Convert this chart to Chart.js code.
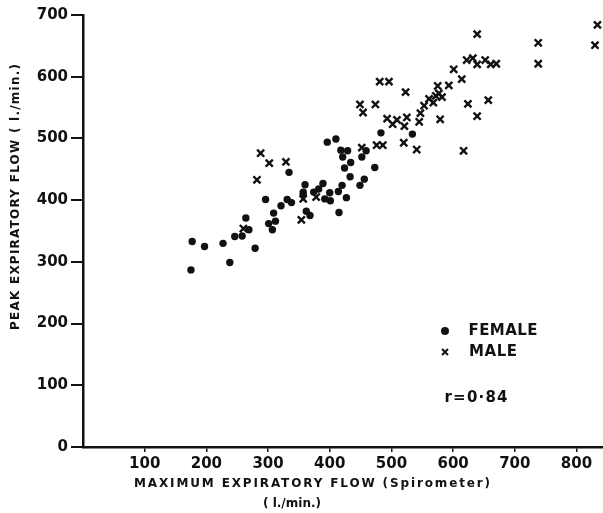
<!DOCTYPE html>
<html>
<head>
<meta charset="utf-8">
<script src="https://cdn.jsdelivr.net/npm/chart.js@4"></script>
<style>
  body { margin: 0; background: #fff; }
  .wrap { width: 603px; height: 513px; position: relative; }
</style>
</head>
<body>
<div class="wrap"><canvas id="flow"></canvas></div>
<script>
// values (l./min.)
var femaleMEF = [175,177,197,227,238,246,258,264,269,279,296,301,307,309,312,321,331,334,338,357,357,360,362,368,374,382,389,392,396,400,401,410,414,415,418,420,421,424,427,429,433,434,449,452,456,459,473,483,534];
var femalePEF = [287,333,325,330,299,341,342,371,352,322,401,362,352,379,366,391,401,445,396,413,409,425,382,375,413,418,427,402,494,412,399,499,414,380,481,424,470,452,404,480,438,461,424,470,434,480,453,509,507];
var maleMEF = [260,282,288,302,329,354,357,378,449,452,454,474,476,481,486,493,496,502,509,520,521,523,525,541,545,547,553,561,568,572,575,577,579,582,593,601,614,617,622,624,632,639,639,639,652,657,661,670,738,738,830,834];
var malePEF = [354,433,476,460,462,368,402,405,555,485,542,555,489,592,489,532,592,523,530,493,520,575,534,482,527,541,553,564,558,569,585,573,531,567,586,612,596,480,627,556,630,669,620,536,627,562,620,621,655,621,651,684];

var xTicks = [100,200,300,400,500,600,700,800];
var yTicks = [0,100,200,300,400,500,600,700];

var ink = '#111';
var fontName = '"DejaVu Sans", sans-serif';

function pairs(xs, ys){
    return xs.map(function(v, i){ return {x: v, y: ys[i]}; });
}

// draw text stretched to a given width with letter spacing
function spaced(ctx, text, cx, cy, width, font){
    ctx.font = font;
    ctx.letterSpacing = '0px';
    var w = ctx.measureText(text).width;
    var gap = (width - w) / (text.length - 1);
    ctx.letterSpacing = gap + 'px';
    ctx.textAlign = 'left';
    ctx.textBaseline = 'middle';
    ctx.fillText(text, cx - width / 2, cy);
    ctx.letterSpacing = '0px';
}

var labels = {
    id: 'labels',
    afterDraw: function(chart){
        var ctx = chart.ctx;
        ctx.save();
        ctx.fillStyle = ink;
        ctx.strokeStyle = ink;

        // axis titles
        spaced(ctx, 'MAXIMUM EXPIRATORY FLOW (Spirometer)', 312, 484, 356, 'bold 12px ' + fontName);
        spaced(ctx, '( l./min.)', 292, 504, 58, 'bold 12px ' + fontName);

        ctx.save();
        ctx.translate(16, 197);
        ctx.rotate(-Math.PI / 2);
        spaced(ctx, 'PEAK EXPIRATORY FLOW ( l./min.)', 0, 0, 266, 'bold 12px ' + fontName);
        ctx.restore();

        // legend
        ctx.beginPath();
        ctx.arc(445, 331, 4, 0, Math.PI * 2);
        ctx.fill();
        ctx.lineWidth = 2;
        ctx.beginPath();
        ctx.moveTo(442, 349); ctx.lineTo(448, 355);
        ctx.moveTo(448, 349); ctx.lineTo(442, 355);
        ctx.stroke();
        spaced(ctx, 'FEMALE', 503, 331, 69, 'bold 15px ' + fontName);
        spaced(ctx, 'MALE', 493, 352, 48, 'bold 15px ' + fontName);
        spaced(ctx, 'r=0·84', 476, 398, 63, 'bold 15px ' + fontName);
        ctx.restore();
    }
};

new Chart(document.getElementById('flow'), {
    type: 'scatter',
    data: {
        datasets: [{
            label: 'FEMALE',
            data: pairs(femaleMEF, femalePEF),
            pointStyle: 'circle',
            pointRadius: 3.7,
            backgroundColor: ink,
            borderWidth: 0
        }, {
            label: 'MALE',
            data: pairs(maleMEF, malePEF),
            pointStyle: 'crossRot',
            pointRadius: 5,
            borderColor: ink,
            borderWidth: 2.4
        }]
    },
    options: {
        responsive: true,
        maintainAspectRatio: false,
        animation: false,
        layout: { autoPadding: false, padding: { top: 15, right: 0, left: 0, bottom: 0 } },
        plugins: { legend: { display: false }, tooltip: { enabled: false } },
        scales: {
            x: {
                type: 'linear',
                min: 0,
                max: 843,
                afterBuildTicks: function(s){ s.ticks = xTicks.map(function(v){ return {value: v}; }); },
                afterFit: function(s){ s.height = 66; s.paddingLeft = 0; s.paddingRight = 0; },
                border: { color: ink, width: 2.5 },
                grid: { drawOnChartArea: false, tickLength: 5, color: ink, lineWidth: 1.5 },
                ticks: { color: ink, padding: 3, maxRotation: 0, autoSkip: false,
                         font: { family: fontName, size: 15, weight: 'bold' } }
            },
            y: {
                type: 'linear',
                min: 0,
                max: 700,
                afterBuildTicks: function(s){ s.ticks = yTicks.map(function(v){ return {value: v}; }); },
                afterFit: function(s){ s.width = 83; },
                border: { color: ink, width: 2.5 },
                grid: { drawOnChartArea: false, tickLength: 12, color: ink, lineWidth: 2 },
                ticks: { color: ink, padding: 3, autoSkip: false,
                         font: { family: fontName, size: 15, weight: 'bold' } }
            }
        }
    },
    plugins: [labels]
});
</script>
</body>
</html>
